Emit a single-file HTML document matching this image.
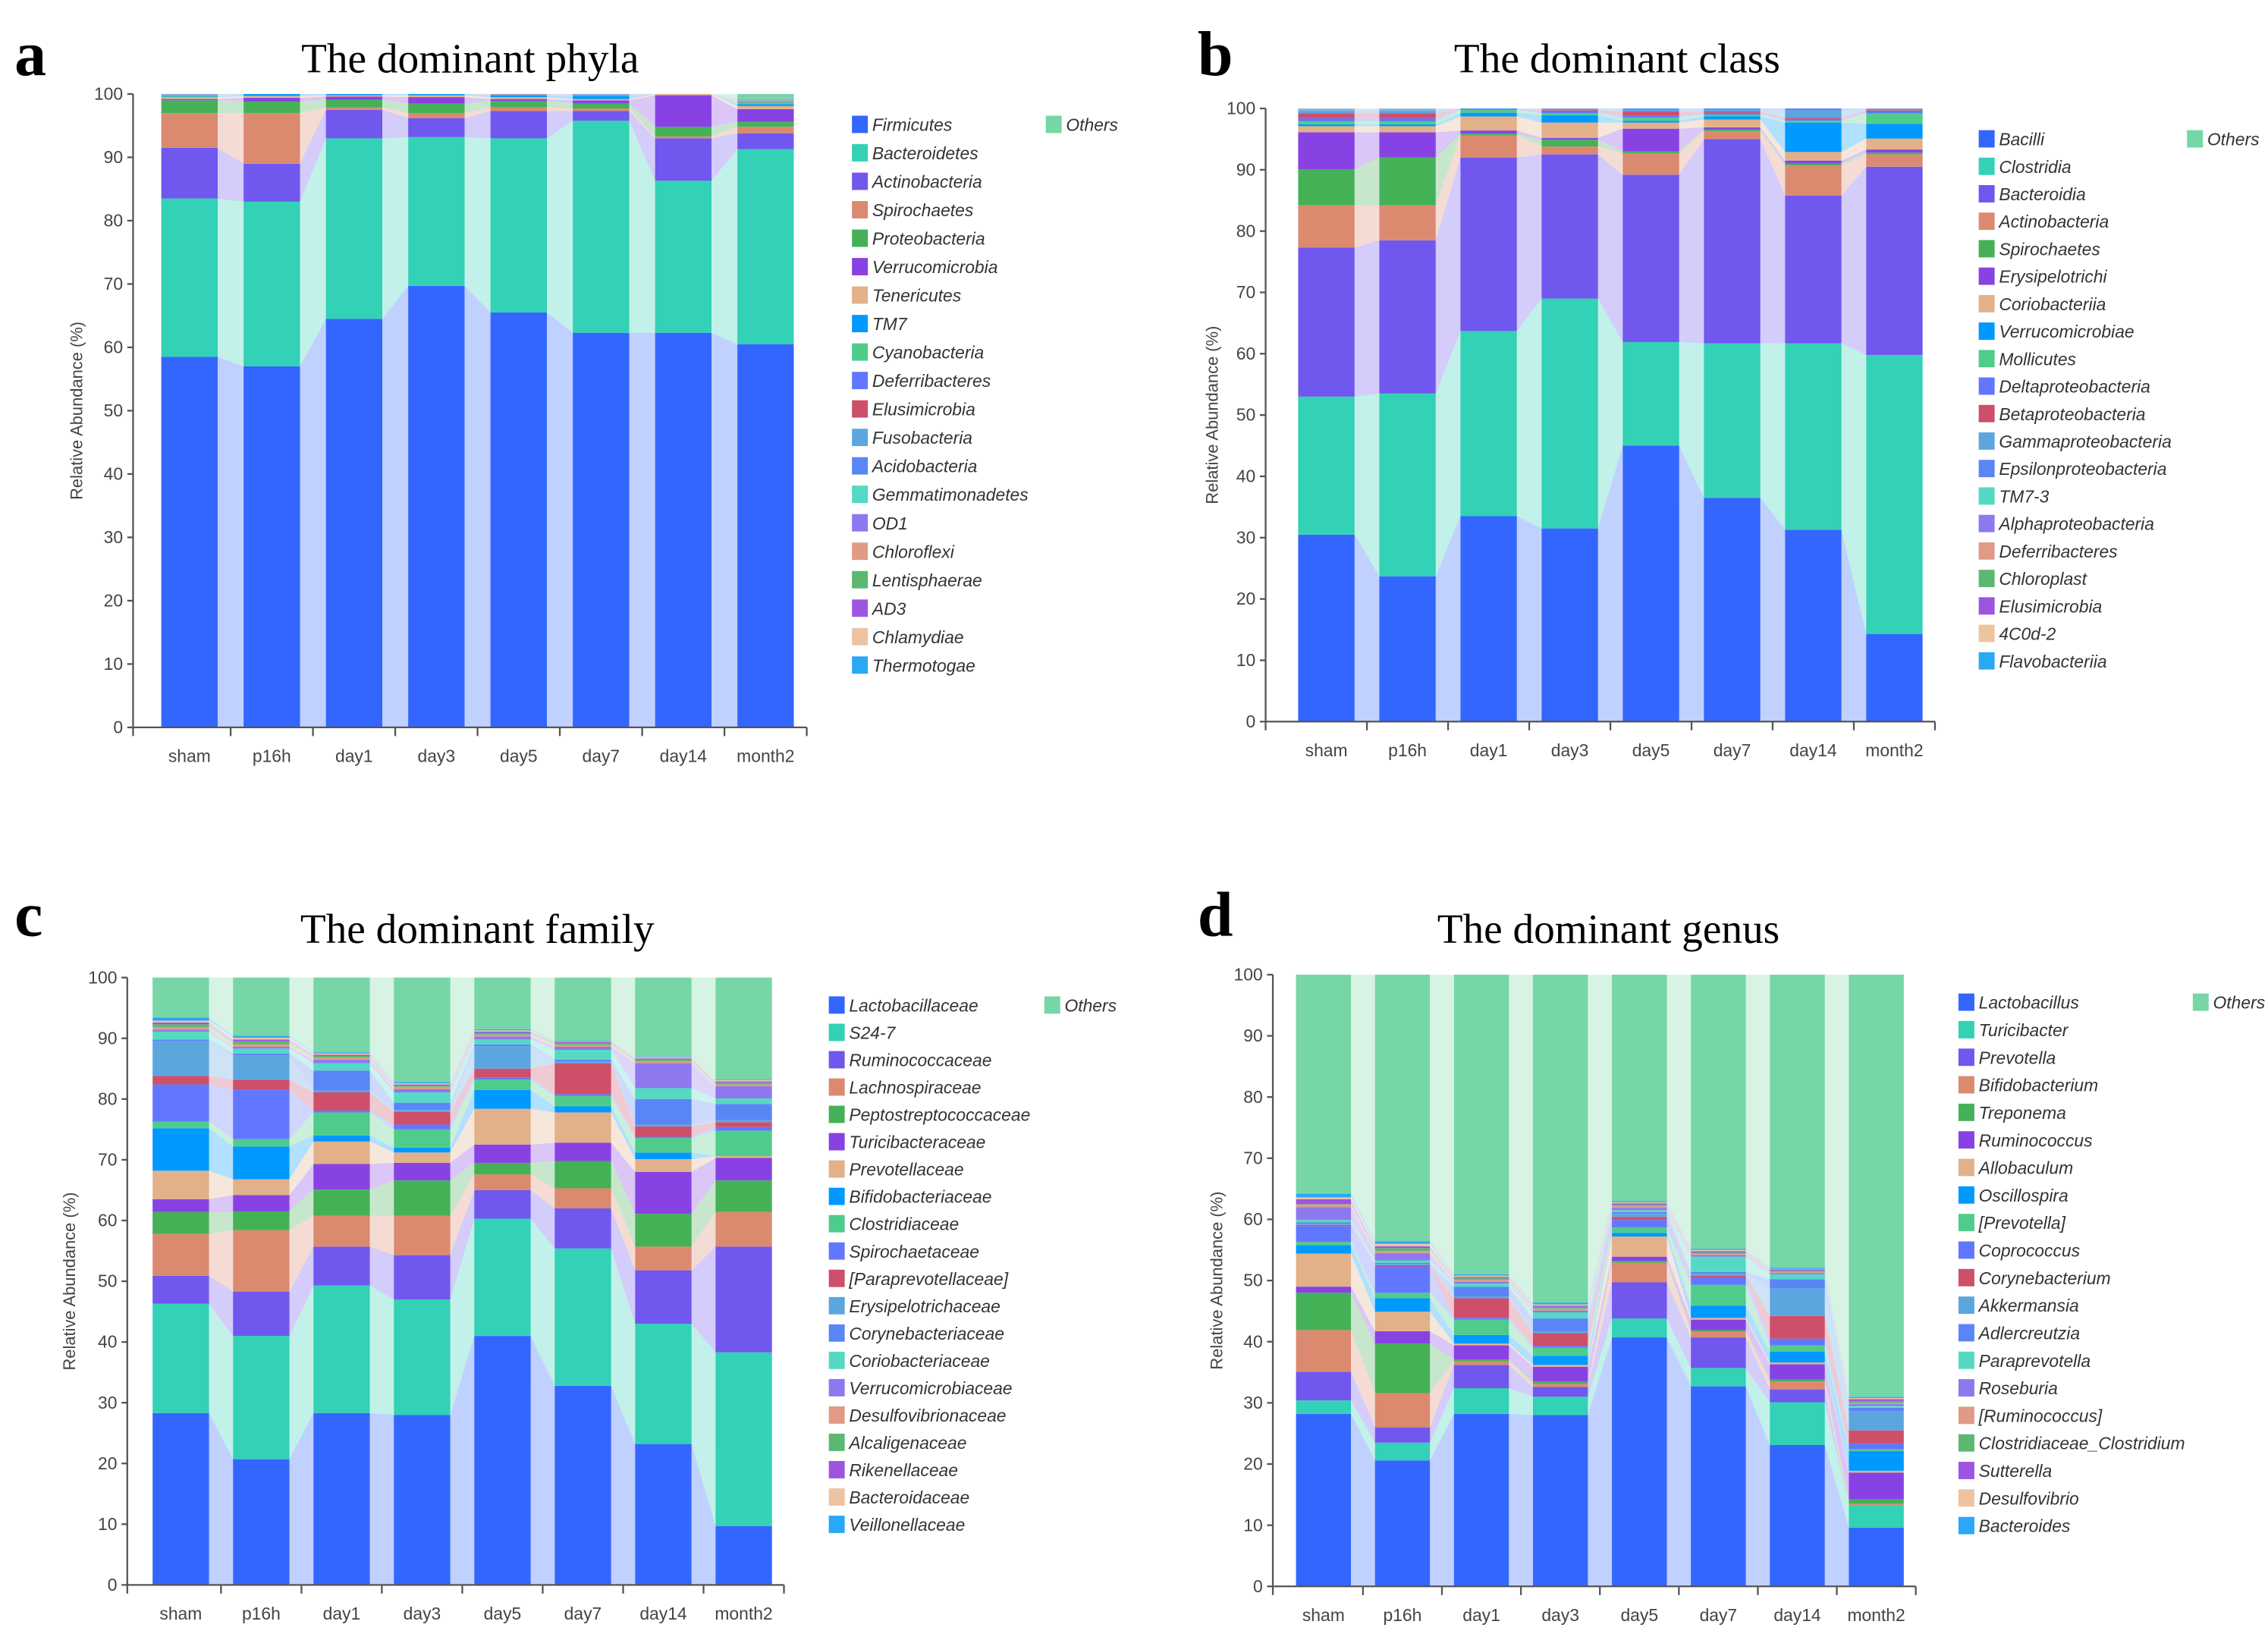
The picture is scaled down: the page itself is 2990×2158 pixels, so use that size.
<!DOCTYPE html>
<html><head><meta charset="utf-8"><title>Dominant taxa</title>
<style>
html,body{margin:0;padding:0;background:#fff;}
svg{display:block;}
</style></head>
<body>
<svg id="fig" xmlns="http://www.w3.org/2000/svg" width="2990" height="2158" viewBox="0 0 1568 1132" preserveAspectRatio="none"></svg>
<script>
const categories = ["sham","p16h","day1","day3","day5","day7","day14","month2"];
const palette = ["#3366FF","#33D1B5","#7057EE","#DB8A70","#45B157","#8842E3","#E2B18A","#0099FF","#4FCC8C","#6277FF","#CD4F6A","#5CA6E0","#5A86F5","#55D9C3","#8E78F0","#E09A85","#5CB870","#9D55E0","#EEC3A0","#2AA8F5"];
const othersColor = "#77D6A6";

const phylaNames = ["Firmicutes","Bacteroidetes","Actinobacteria","Spirochaetes","Proteobacteria","Verrucomicrobia","Tenericutes","TM7","Cyanobacteria","Deferribacteres","Elusimicrobia","Fusobacteria","Acidobacteria","Gemmatimonadetes","OD1","Chloroflexi","Lentisphaerae","AD3","Chlamydiae","Thermotogae"];
const phylaValues = [
 [58.5,57,64.5,69.7,65.5,62.3,62.3,60.5],
 [25,26,28.5,23.5,27.5,33.5,24,30.8],
 [8,6,4.5,3,4.3,1.5,6.7,2.5],
 [5.5,8,0.4,0.8,0.6,0.4,0.3,1],
 [2,1.8,1.2,1.5,1,0.8,1.5,0.8],
 [0.2,0.6,0.5,1,0.3,0.5,5,2],
 [0.3,0.3,0.2,0.3,0.3,0.2,0.2,0.5],
 [0.1,0.5,0.5,0.5,0.3,0.5,0.2,0.3],
 [0.2,0.1,0.1,0.2,0.1,0.1,0.1,0.3],
 [0.05,0.05,0.05,0.05,0.05,0.05,0.05,0.05],
 [0.05,0.05,0.05,0.05,0.05,0.05,0.05,0.05],
 [0.05,0.05,0.05,0.05,0.05,0.05,0.05,0.05],
 [0.05,0.05,0.05,0.05,0.05,0.05,0.05,0.05],
 [0.05,0.05,0.05,0.05,0.05,0.05,0.05,0.05],
 [0.05,0.05,0.05,0.05,0.05,0.05,0.05,0.05],
 [0.05,0.05,0.05,0.05,0.05,0.05,0.05,0.05],
 [0.05,0.05,0.05,0.05,0.05,0.05,0.05,0.05],
 [0.05,0.05,0.05,0.05,0.05,0.05,0.05,0.05],
 [0.05,0.05,0.05,0.05,0.05,0.05,0.05,0.05],
 [0.05,0.05,0.05,0.05,0.05,0.05,0.05,0.05]
];

const classNames = ["Bacilli","Clostridia","Bacteroidia","Actinobacteria","Spirochaetes","Erysipelotrichi","Coriobacteriia","Verrucomicrobiae","Mollicutes","Deltaproteobacteria","Betaproteobacteria","Gammaproteobacteria","Epsilonproteobacteria","TM7-3","Alphaproteobacteria","Deferribacteres","Chloroplast","Elusimicrobia","4C0d-2","Flavobacteriia"];
const classValues = [
 [30.5,23.7,33.5,31.5,45,36.5,31.3,14.3],
 [22.5,29.8,30.2,37.5,16.9,25.2,30.4,45.5],
 [24.3,25,28.3,23.5,27.3,33.3,24.1,30.7],
 [6.9,5.7,3.6,1.3,3.5,1.3,4.9,2],
 [5.9,7.8,0.3,1.1,0.3,0.3,0.3,0.3],
 [6,4.1,0.5,0.3,3.7,0.3,0.5,0.5],
 [1,1,2.3,2.5,1,1.3,1.4,1.8],
 [0.3,0.3,0.6,1.2,0.3,0.5,4.8,2.4],
 [0.5,0.5,0.5,0.3,0.5,0.3,0.3,1.7],
 [0.5,0.5,0.3,0.3,0.3,0.3,0.3,0.3],
 [0.8,0.8,0.3,0.2,0.7,0.2,0.2,0.2],
 [0.2,0.2,0.3,0.2,0.3,0.3,1.2,0.2],
 [0.2,0.2,0.3,0.3,0.2,1.5,0.3,0.2],
 [0.1,0.1,0.3,0.2,0.2,0.1,0.1,0.1],
 [0.05,0.05,0.05,0.05,0.05,0.05,0.05,0.05],
 [0.05,0.05,0.05,0.05,0.05,0.05,0.05,0.05],
 [0.05,0.05,0.05,0.05,0.05,0.05,0.05,0.05],
 [0.05,0.05,0.05,0.05,0.05,0.05,0.05,0.05],
 [0.05,0.05,0.05,0.05,0.05,0.05,0.05,0.05],
 [0.05,0.05,0.05,0.05,0.05,0.05,0.05,0.05]
];

const familyNames = ["Lactobacillaceae","S24-7","Ruminococcaceae","Lachnospiraceae","Peptostreptococcaceae","Turicibacteraceae","Prevotellaceae","Bifidobacteriaceae","Clostridiaceae","Spirochaetaceae","[Paraprevotellaceae]","Erysipelotrichaceae","Corynebacteriaceae","Coriobacteriaceae","Verrucomicrobiaceae","Desulfovibrionaceae","Alcaligenaceae","Rikenellaceae","Bacteroidaceae","Veillonellaceae"];
const familyValues = [
 [28.3,20.7,28.3,28,41,32.8,23.2,9.7],
 [18,20.3,21,19,19.3,22.6,19.8,28.6],
 [4.6,7.3,6.4,7.3,4.7,6.6,8.8,17.4],
 [6.9,10.1,5.1,6.5,2.6,3.3,3.9,5.7],
 [3.6,3.1,4.3,5.8,1.9,4.5,5.4,5.2],
 [2.1,2.7,4.2,2.9,3,3,6.9,3.7],
 [4.7,2.6,3.7,1.7,5.9,5,2.1,0.3],
 [7,5.4,1,0.8,3.1,1,1.1,0],
 [1.1,1.2,3.8,3,1.7,1.7,2.4,4.2],
 [6.1,8.1,0.3,0.8,0.3,0.3,0.2,0.6],
 [1.4,1.7,3,2.1,1.5,5.1,1.7,0.8],
 [5.7,4,0.3,0.3,3.7,0.3,0.3,0.3],
 [0.3,0.3,3.3,1.2,0.3,0.3,4.2,2.7],
 [1.3,0.8,1.2,1.7,0.8,1.6,1.8,0.9],
 [0.3,0.3,0.6,0.5,0.5,0.5,4.1,2],
 [0.4,0.4,0.3,0.4,0.3,0.3,0.3,0.3],
 [0.5,0.5,0.3,0.2,0.3,0.3,0.3,0.3],
 [0.3,0.3,0.2,0.2,0.2,0.2,0.2,0.2],
 [0.3,0.3,0.2,0.2,0.2,0.1,0.2,0.2],
 [0.5,0.3,0.2,0.2,0.2,0.1,0.1,0.1]
];

const genusNames = ["Lactobacillus","Turicibacter","Prevotella","Bifidobacterium","Treponema","Ruminococcus","Allobaculum","Oscillospira","[Prevotella]","Coprococcus","Corynebacterium","Akkermansia","Adlercreutzia","Paraprevotella","Roseburia","[Ruminococcus]","Clostridiaceae_Clostridium","Sutterella","Desulfovibrio","Bacteroides"];
const genusValues = [
 [28.2,20.6,28.2,28,40.7,32.7,23.1,9.6],
 [2.2,2.9,4.2,3,3.1,3,7,3.6],
 [4.7,2.5,3.8,1.6,5.9,5,2.1,0],
 [6.8,5.6,0.6,0.5,3.2,1,1.3,0.3],
 [6.1,8.1,0.3,0.4,0.3,0.2,0.3,0.7],
 [1,2,2.3,2.4,0.7,1.7,2.5,4.4],
 [5.4,3.2,0.3,0.3,3.3,0.3,0.3,0.3],
 [1.4,2.2,1.4,1.5,0.6,2,1.8,3.2],
 [0.5,0.9,2.5,1.3,0.9,3.4,1,0.3],
 [2.6,4.3,0.3,0.3,1.2,1.2,1.1,1],
 [0.2,0.2,3.2,2.1,0.5,0.3,3.7,2.1],
 [0.2,0.2,0.3,0.3,0.5,0.3,4.5,3.1],
 [0.2,0.2,1.6,2.1,0.3,0.3,1.5,0.6],
 [0.4,0.4,0.5,1,0.3,2.5,0.8,0.3],
 [2.1,1.2,0.3,0.3,0.4,0.3,0.2,0.3],
 [0.4,0.3,0.3,0.3,0.3,0.2,0.2,0.2],
 [0.1,0.5,0.3,0.3,0.2,0.2,0.2,0.3],
 [0.8,0.3,0.2,0.2,0.2,0.2,0.2,0.3],
 [0.3,0.4,0.2,0.2,0.2,0.2,0.1,0.2],
 [0.6,0.4,0.2,0.3,0.2,0.2,0.2,0.2]
];

const NS = "http://www.w3.org/2000/svg";
const svg = document.getElementById("fig");
function mk(parent, tag, attrs, text) {
  const e = document.createElementNS(NS, tag);
  for (const k in attrs) e.setAttribute(k, attrs[k]);
  if (text !== undefined) e.textContent = text;
  parent.appendChild(e);
  return e;
}

const panels = [
  {id:"a", title:"The dominant phyla", letterX:10, letterY:52, titleX:325, titleY:50, axisX:92, y0:503, y100:65, c0:131, step:56.9, bw:39, names:phylaNames, values:phylaValues, legX:589, legY:86, legStep:19.68, othX:723, yTitleX:57},
  {id:"b", title:"The dominant class", letterX:828, letterY:52, titleX:1118, titleY:50, axisX:875, y0:499, y100:75, c0:917, step:56.1, bw:39, names:classNames, values:classValues, legX:1368, legY:96, legStep:19.0, othX:1512, yTitleX:842},
  {id:"c", title:"The dominant family", letterX:10, letterY:647, titleX:330, titleY:652, axisX:88, y0:1096, y100:676, c0:125, step:55.6, bw:39, names:familyNames, values:familyValues, legX:573, legY:695, legStep:18.9, othX:722, yTitleX:52},
  {id:"d", title:"The dominant genus", letterX:828, letterY:647, titleX:1112, titleY:652, axisX:880, y0:1097, y100:674, c0:915, step:54.6, bw:38, names:genusNames, values:genusValues, legX:1354, legY:693, legStep:19.05, othX:1516, yTitleX:845}
];

panels.forEach(p => {
  const g = mk(svg, "g", {});
  
  
  const yS = v => p.y0 - v * (p.y0 - p.y100) / 100;
  const xC = i => p.c0 + i * p.step;

  const letter = mk(g, "text", {x:p.letterX, y:p.letterY, "font-family":"Liberation Serif, serif", "font-weight":"bold", "font-size":"44"}, p.id);
  
  
  const title = mk(g, "text", {x:p.titleX, y:p.titleY, "text-anchor":"middle", "font-family":"Liberation Serif, serif", "font-size":"29"}, p.title);
  
  

  const n = categories.length;
  const layers = [];
  const cum = new Array(n).fill(0);
  p.values.forEach((vals, s) => {
    const lo = cum.slice();
    for (let i = 0; i < n; i++) cum[i] = Math.min(100, cum[i] + vals[i]);
    layers.push({color: palette[s], name: p.names[s], lo: lo, hi: cum.slice()});
  });
  layers.push({color: othersColor, name: "Others", lo: cum.slice(), hi: new Array(n).fill(100)});

  const rg = mk(g, "g", {});
  
  
  layers.forEach(L => {
    for (let i = 0; i < n - 1; i++) {
      const xa = xC(i) + p.bw / 2, xb = xC(i + 1) - p.bw / 2;
      const pts = [[xa, yS(L.lo[i])], [xa, yS(L.hi[i])], [xb, yS(L.hi[i + 1])], [xb, yS(L.lo[i + 1])]];
      if (L.hi[i] - L.lo[i] <= 0 && L.hi[i + 1] - L.lo[i + 1] <= 0) continue;
      const r = mk(rg, "polygon", {points: pts.map(q => q.join(",")).join(" "), fill: L.color, "fill-opacity": "0.3"});
      
      
    }
  });

  layers.forEach(L => {
    for (let i = 0; i < n; i++) {
      const h = yS(L.lo[i]) - yS(L.hi[i]);
      if (h <= 0) continue;
      const b = mk(g, "rect", {x: xC(i) - p.bw / 2, y: yS(L.hi[i]), width: p.bw, height: h, fill: L.color});
      
      
    }
  });

  const xEnd = xC(n - 1) + p.step / 2;
  const ax = mk(g, "g", {stroke: "#555", "stroke-width": "1.2", fill: "none"});
  
  
  mk(ax, "line", {x1: p.axisX, y1: p.y100, x2: p.axisX, y2: p.y0});
  mk(ax, "line", {x1: p.axisX, y1: p.y0, x2: xEnd, y2: p.y0});
  for (let i = 0; i <= n; i++) {
    const xt = i === 0 ? p.axisX : (i === n ? xEnd : (xC(i - 1) + xC(i)) / 2);
    mk(ax, "line", {x1: xt, y1: p.y0, x2: xt, y2: p.y0 + 6});
  }
  for (let v = 0; v <= 100; v += 10) {
    mk(ax, "line", {x1: p.axisX - 4, y1: yS(v), x2: p.axisX, y2: yS(v)});
    const t = mk(g, "text", {x: p.axisX - 7, y: yS(v) + 4, "text-anchor": "end", "font-family": "Liberation Sans, sans-serif", "font-size": "12", fill: "#444"}, String(v));
    
    
  }
  categories.forEach((c, i) => {
    const t = mk(g, "text", {x: xC(i), y: p.y0 + 24, "text-anchor": "middle", "font-family": "Liberation Sans, sans-serif", "font-size": "12", fill: "#444"}, c);
    
    
  });
  const ym = (p.y0 + p.y100) / 2;
  const yt = mk(g, "text", {x: p.yTitleX, y: ym, "text-anchor": "middle", transform: "rotate(-90 " + p.yTitleX + " " + ym + ")", "font-family": "Liberation Sans, sans-serif", "font-size": "11.5", fill: "#444"}, "Relative Abundance (%)");
  
  

  p.names.forEach((nm, s) => {
    const yy = p.legY + s * p.legStep;
    const e = mk(g, "g", {});
    
    
    mk(e, "rect", {x: p.legX, y: yy - 6, width: 11, height: 12, fill: palette[s]});
    mk(e, "text", {x: p.legX + 14, y: yy + 4.5, "font-family": "Liberation Sans, sans-serif", "font-style": "italic", "font-size": "12", fill: "#333"}, nm);
  });
  const oe = mk(g, "g", {});
  
  
  mk(oe, "rect", {x: p.othX, y: p.legY - 6, width: 11, height: 12, fill: othersColor});
  mk(oe, "text", {x: p.othX + 14, y: p.legY + 4.5, "font-family": "Liberation Sans, sans-serif", "font-style": "italic", "font-size": "12", fill: "#333"}, "Others");
});
</script>
</body></html>
